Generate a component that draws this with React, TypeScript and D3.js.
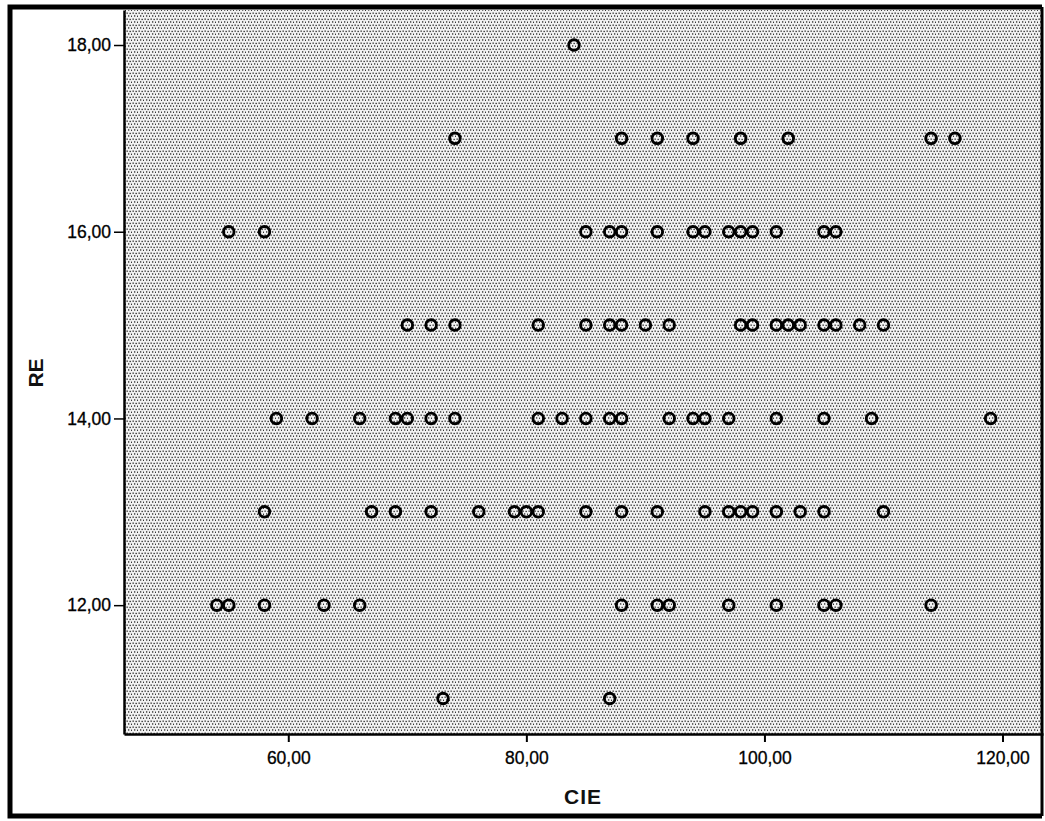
import React, { useEffect, useRef } from "react";
import * as d3 from "d3";

// CIE values observed at each RE level
const cieAtRE11 = [73, 87];
const cieAtRE12 = [54, 55, 58, 63, 66, 88, 91, 92, 97, 101, 105, 106, 114];
const cieAtRE13 = [58, 67, 69, 72, 76, 79, 80, 81, 85, 88, 91, 95, 97, 98, 99, 101, 103, 105, 110];
const cieAtRE14 = [59, 62, 66, 69, 70, 72, 74, 81, 83, 85, 87, 88, 92, 94, 95, 97, 101, 105, 109, 119];
const cieAtRE15 = [70, 72, 74, 81, 85, 87, 88, 90, 92, 98, 99, 101, 102, 103, 105, 106, 108, 110];
const cieAtRE16 = [55, 58, 85, 87, 88, 91, 94, 95, 97, 98, 99, 101, 105, 106];
const cieAtRE17 = [74, 88, 91, 94, 98, 102, 114, 116];
const cieAtRE18 = [84];

const reLevels = [11, 12, 13, 14, 15, 16, 17, 18];
const cieByLevel = [cieAtRE11, cieAtRE12, cieAtRE13, cieAtRE14, cieAtRE15, cieAtRE16, cieAtRE17, cieAtRE18];

const xTicks = [60, 80, 100, 120];
const yTicks = [12, 14, 16, 18];
const xTitle = "CIE";
const yTitle = "RE";

const W = 1045;
const H = 821;

export default function App() {
  const ref = useRef<SVGSVGElement | null>(null);

  useEffect(() => {
    const svg = d3.select(ref.current);
    svg.selectAll("*").remove();

    const plot = { left: 124, right: 1043, top: 10, bottom: 734 };
    const x = d3.scaleLinear().domain([46.2, 123.4]).range([plot.left, plot.right]);
    const y = d3.scaleLinear().domain([10.62, 18.375]).range([plot.bottom, plot.top]);

    const defs = svg.append("defs");
    const pat = defs
      .append("pattern")
      .attr("id", "stipple")
      .attr("patternUnits", "userSpaceOnUse")
      .attr("width", 6)
      .attr("height", 6);
    pat.append("rect").attr("width", 6).attr("height", 6).attr("fill", "#f2f2f2");
    const dots = [
      [0.5, 0.5], [3.5, 0.8], [2.0, 3.3], [5.0, 3.6],
    ];
    dots.forEach(([dx, dy]) =>
      pat.append("rect").attr("x", dx).attr("y", dy).attr("width", 1.3).attr("height", 1.3).attr("fill", "#222")
    );

    // page background
    svg.append("rect").attr("width", W).attr("height", H).attr("fill", "#ffffff");

    // plot area
    svg
      .append("rect")
      .attr("x", plot.left)
      .attr("y", plot.top)
      .attr("width", plot.right - plot.left)
      .attr("height", plot.bottom - plot.top)
      .attr("fill", "url(#stipple)");

    const fmt = (d: number) => d.toFixed(2).replace(".", ",");

    const xAxis = svg
      .append("g")
      .attr("transform", `translate(0,${plot.bottom})`)
      .call(d3.axisBottom(x).tickValues(xTicks).tickFormat(fmt as any).tickSize(8).tickSizeOuter(0));
    xAxis.select(".domain").attr("stroke", "#000").attr("stroke-width", 2.5);
    xAxis.selectAll(".tick line").attr("stroke", "#000").attr("stroke-width", 2);
    xAxis
      .selectAll(".tick text")
      .attr("font-family", "Arial, 'Liberation Sans', sans-serif")
      .attr("font-size", 17.5)
      .attr("fill", "#000")
      .attr("stroke", "#000")
      .attr("stroke-width", 0.3)
      .attr("dy", "1.1em");

    const yAxis = svg
      .append("g")
      .attr("transform", `translate(${plot.left},0)`)
      .call(d3.axisLeft(y).tickValues(yTicks).tickFormat(fmt as any).tickSize(10).tickSizeOuter(0));
    yAxis.select(".domain").attr("stroke", "#000").attr("stroke-width", 2.5);
    yAxis.selectAll(".tick line").attr("stroke", "#000").attr("stroke-width", 1.5);
    yAxis
      .selectAll(".tick text")
      .attr("font-family", "Arial, 'Liberation Sans', sans-serif")
      .attr("font-size", 17.5)
      .attr("fill", "#000")
      .attr("stroke", "#000")
      .attr("stroke-width", 0.3)
      .attr("x", -13);

    // points
    const pts: { cie: number; re: number }[] = [];
    reLevels.forEach((re, i) => cieByLevel[i].forEach((cie) => pts.push({ cie, re })));
    svg
      .append("g")
      .selectAll("circle")
      .data(pts)
      .join("circle")
      .attr("cx", (d) => x(d.cie))
      .attr("cy", (d) => y(d.re))
      .attr("r", 5.3)
      .attr("fill", "none")
      .attr("stroke", "#000")
      .attr("stroke-width", 2.9);

    // axis titles
    svg
      .append("text")
      .attr("x", 583)
      .attr("y", 804)
      .attr("text-anchor", "middle")
      .attr("font-family", "Arial, 'Liberation Sans', sans-serif")
      .attr("font-weight", "bold")
      .attr("font-size", 21)
      .attr("letter-spacing", 1)
      .attr("fill", "#111")
      .text(xTitle);
    svg
      .append("text")
      .attr("transform", `translate(43,373) rotate(-90)`)
      .attr("text-anchor", "middle")
      .attr("font-family", "Arial, 'Liberation Sans', sans-serif")
      .attr("font-weight", "bold")
      .attr("font-size", 21)
      .attr("fill", "#111")
      .text(yTitle);

    // outer frame
    svg
      .append("path")
      .attr("d", "M1042,7 H10 V816 H1042")
      .attr("fill", "none")
      .attr("stroke", "#000")
      .attr("stroke-width", 5);
    svg
      .append("line")
      .attr("x1", 1042)
      .attr("x2", 1042)
      .attr("y1", 7)
      .attr("y2", 816)
      .attr("stroke", "#000")
      .attr("stroke-width", 3);
  }, []);

  return (
    <svg
      ref={ref}
      width={W}
      height={H}
      style={{ position: "absolute", left: 0, top: 0, display: "block" }}
    />
  );
}
